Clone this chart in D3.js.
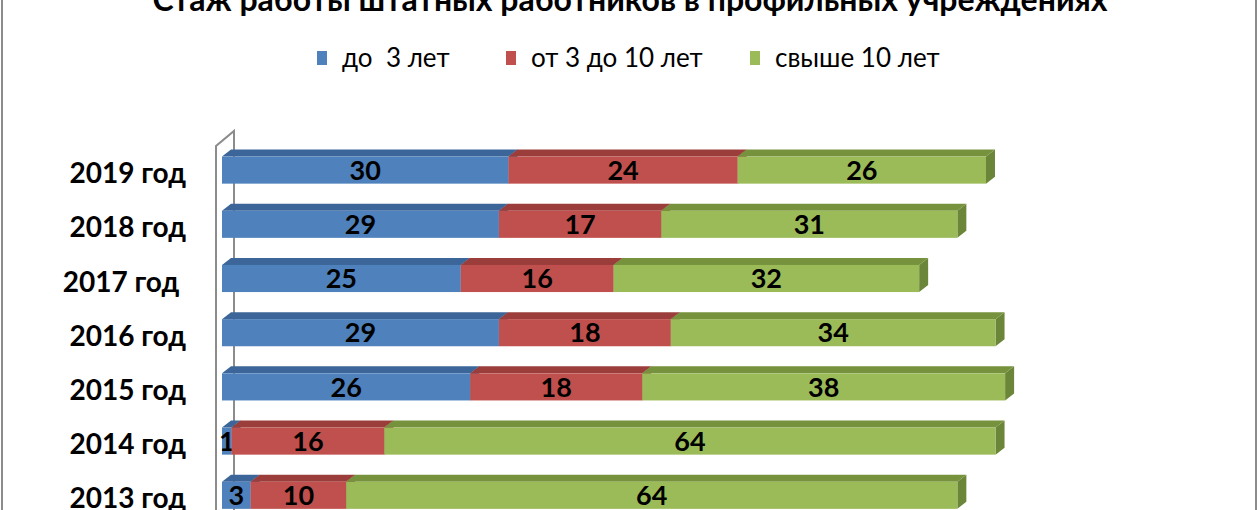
<!DOCTYPE html>
<meta charset="utf-8">
<style>
body { margin: 0; background: #fff; }
text { font-family: Lato, "Open Sans", sans-serif; fill: #000; }
.title { font-weight: bold; font-size: 32px; }
.legend text { font-size: 26px; white-space: pre; }
.cat { font-weight: bold; font-size: 28px; white-space: pre; }
.val { font-weight: bold; font-size: 27px; }
</style>
<svg width="1260" height="510"></svg>
<script src="https://d3js.org/d3.v7.min.js"></script>
<script>

var years = ["2019 год", "2018 год", "2017 год ", "2016 год", "2015 год", "2014 год", "2013 год"];
var series = ["до  3 лет", "от 3 до 10 лет", "свыше 10 лет"];
var upTo3 = [30, 29, 25, 29, 26, 1, 3];
var from3to10 = [24, 17, 16, 18, 18, 16, 10];
var over10 = [26, 31, 32, 34, 38, 64, 64];

var front = ["#4f81bd", "#c0504d", "#9bbb59"],
    topc = ["#3c6699", "#9b3e3b", "#76923c"],
    side = ["#385d8a", "#8c3836", "#6b8639"];

var svg = d3.select("svg"),
    width = +svg.attr("width"),
    height = +svg.attr("height");

// outer frame
svg.append("rect")
    .attr("x", 2).attr("y", -5)
    .attr("width", 1254).attr("height", height + 10)
    .attr("fill", "none").attr("stroke", "#8c8c8c").attr("stroke-width", 2);

svg.append("text")
    .attr("class", "title")
    .attr("x", 630).attr("y", 11)
    .attr("text-anchor", "middle")
    .text("Стаж работы штатных работников в профильных учреждениях");

// legend
var legendX = [317, 506, 750];
var lg = svg.append("g").attr("class", "legend");
series.forEach(function(s, i) {
  lg.append("rect")
      .attr("x", legendX[i]).attr("y", 51)
      .attr("width", 10).attr("height", 14)
      .attr("fill", front[i]);
  lg.append("text")
      .attr("x", legendX[i] + 25).attr("y", 67)
      .text(s);
});

var y = d3.scaleBand()
    .domain(years)
    .range([143, 522.4])
    .paddingInner(0.5)
    .paddingOuter(0.25);

var x = d3.scaleLinear()
    .domain([0, 80])
    .range([222, 986]);

var dx = 9, dy = 7;

// wall
svg.append("path")
    .attr("d", "M216," + height + "V146L234,131V" + height)
    .attr("fill", "none").attr("stroke", "#8c8c8c").attr("stroke-width", 2);

var rows = years.map(function(yr, i) {
  var vals = [upTo3[i], from3to10[i], over10[i]], acc = 0;
  return {
    year: yr,
    segs: vals.map(function(v, k) {
      var s = {k: k, v: v, x0: acc, x1: acc + v};
      acc += v;
      return s;
    })
  };
});

var row = svg.selectAll("g.row")
  .data(rows)
  .enter().append("g")
    .attr("class", "row");

var seg = row.selectAll("g.seg")
  .data(function(d) { return d.segs.map(function(s) { return Object.assign({year: d.year}, s); }); })
  .enter().append("g")
    .attr("class", "seg");

seg.append("path")
    .attr("fill", function(d) { return side[d.k]; })
    .attr("d", function(d) {
      var xa = x(d.x1), t = y(d.year), b = t + y.bandwidth();
      return "M" + xa + "," + t + "L" + (xa + dx) + "," + (t - dy) + "L" + (xa + dx) + "," + (b - dy) + "L" + xa + "," + b + "Z";
    });

seg.append("path")
    .attr("fill", function(d) { return topc[d.k]; })
    .attr("d", function(d) {
      var xa = x(d.x0), xb = x(d.x1), t = y(d.year);
      return "M" + xa + "," + t + "L" + (xa + dx) + "," + (t - dy) + "L" + (xb + dx) + "," + (t - dy) + "L" + xb + "," + t + "Z";
    });

seg.append("rect")
    .attr("x", function(d) { return x(d.x0); })
    .attr("y", function(d) { return y(d.year); })
    .attr("width", function(d) { return x(d.x1) - x(d.x0); })
    .attr("height", y.bandwidth())
    .attr("fill", function(d) { return front[d.k]; });

seg.append("text")
    .attr("class", "val")
    .attr("x", function(d) { return (x(d.x0) + x(d.x1)) / 2; })
    .attr("y", function(d) { return y(d.year) + y.bandwidth() / 2; })
    .attr("dy", "0.36em")
    .attr("text-anchor", "middle")
    .text(function(d) { return d.v; });

// category labels
svg.selectAll("text.cat")
  .data(years)
  .enter().append("text")
    .attr("class", "cat")
    .attr("x", 186)
    .attr("y", function(d) { return y(d) + y.bandwidth() / 2 + 3; })
    .attr("dy", "0.36em")
    .attr("text-anchor", "end")
    .text(function(d) { return d; });

</script>
